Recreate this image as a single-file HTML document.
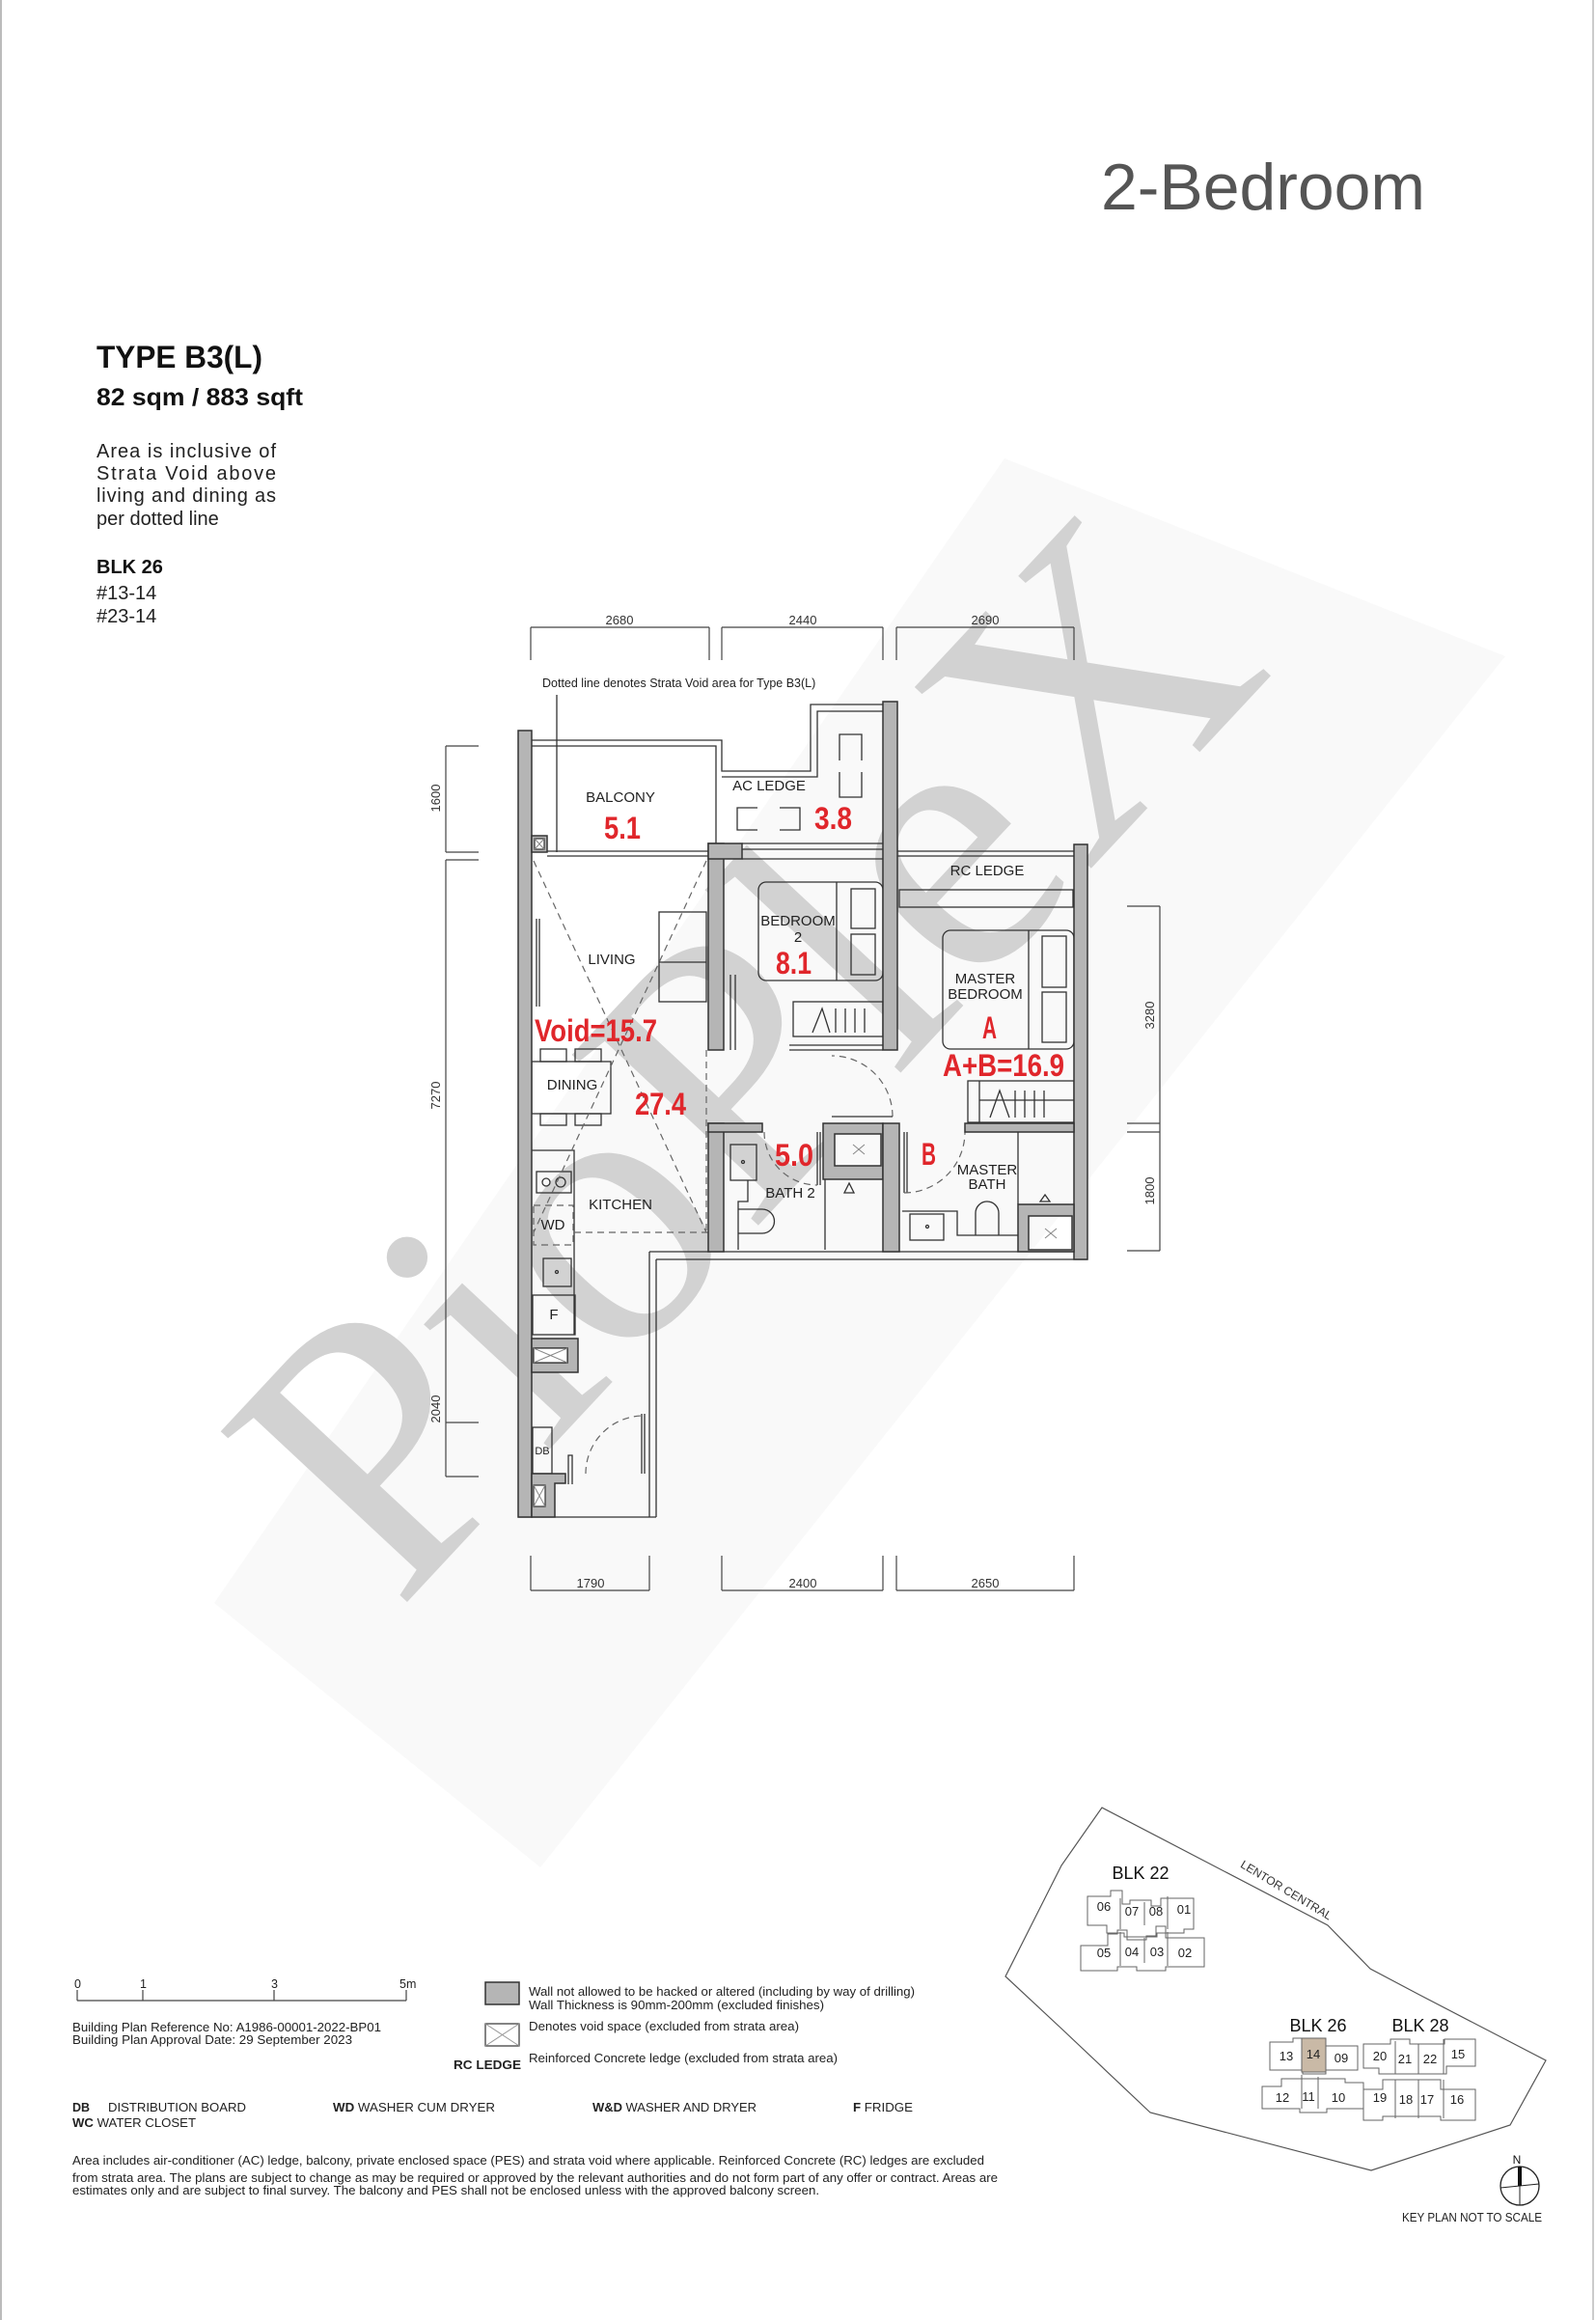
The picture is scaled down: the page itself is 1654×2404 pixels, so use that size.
<!DOCTYPE html>
<html><head><meta charset="utf-8"><style>
html,body{margin:0;padding:0;background:#fff;}
svg{display:block;}
text{font-family:"Liberation Sans",Arial,sans-serif;}
</style></head><body>
<svg width="1654" height="2404" viewBox="0 0 1654 2404" xmlns="http://www.w3.org/2000/svg">
<rect x="0" y="0" width="1654" height="2404" fill="#fff"/>
<line x1="1" y1="0" x2="1" y2="2404" stroke="#bbb" stroke-width="2"/>
<line x1="1651" y1="0" x2="1651" y2="2404" stroke="#ccc" stroke-width="2"/>

<!-- watermark band -->
<polygon points="222,1661 1041,475 1560,680 560,1935" fill="#f9f9f9"/>
<text x="0" y="0" transform="translate(800,1120) rotate(-47)" text-anchor="middle" dominant-baseline="middle" font-size="400" fill="#d2d2d2" style="font-family:'Liberation Serif',serif">PioPleX</text>

<!-- Header -->
<text x="1141" y="217" font-size="68" fill="#555" textLength="336" lengthAdjust="spacingAndGlyphs">2-Bedroom</text>
<text x="100" y="381" font-size="32" font-weight="bold" fill="#111" textLength="172" lengthAdjust="spacingAndGlyphs">TYPE B3(L)</text>
<text x="100" y="420" font-size="25" font-weight="bold" fill="#111" textLength="214" lengthAdjust="spacingAndGlyphs">82 sqm / 883 sqft</text>
<g font-size="20" fill="#222">
<text x="100" y="474" textLength="186" lengthAdjust="spacing">Area is inclusive of</text>
<text x="100" y="497" textLength="186" lengthAdjust="spacing">Strata Void above</text>
<text x="100" y="520" textLength="186" lengthAdjust="spacing">living and dining as</text>
<text x="100" y="544">per dotted line</text>
</g>
<text x="100" y="594" font-size="20" font-weight="bold" fill="#111">BLK 26</text>
<text x="100" y="621" font-size="20" fill="#222">#13-14</text>
<text x="100" y="645" font-size="20" fill="#222">#23-14</text>

<!-- Dimensions -->
<g stroke="#444" stroke-width="1.2" fill="none">
<line x1="550" y1="650" x2="735" y2="650"/><line x1="748" y1="650" x2="915" y2="650"/><line x1="929" y1="650" x2="1113" y2="650"/>
<line x1="550" y1="650" x2="550" y2="684"/><line x1="735" y1="650" x2="735" y2="684"/><line x1="748" y1="650" x2="748" y2="684"/><line x1="915" y1="650" x2="915" y2="684"/><line x1="929" y1="650" x2="929" y2="684"/><line x1="1113" y1="650" x2="1113" y2="684"/>
<line x1="550" y1="1648" x2="673" y2="1648"/><line x1="748" y1="1648" x2="915" y2="1648"/><line x1="929" y1="1648" x2="1113" y2="1648"/>
<line x1="550" y1="1612" x2="550" y2="1648"/><line x1="673" y1="1612" x2="673" y2="1648"/><line x1="748" y1="1612" x2="748" y2="1648"/><line x1="915" y1="1612" x2="915" y2="1648"/><line x1="929" y1="1612" x2="929" y2="1648"/><line x1="1113" y1="1612" x2="1113" y2="1648"/>
<line x1="462" y1="773" x2="462" y2="883"/><line x1="462" y1="891" x2="462" y2="1530"/>
<line x1="462" y1="773" x2="496" y2="773"/><line x1="462" y1="883" x2="496" y2="883"/><line x1="462" y1="891" x2="496" y2="891"/><line x1="462" y1="1474" x2="496" y2="1474"/><line x1="462" y1="1530" x2="496" y2="1530"/>
<line x1="1202" y1="939" x2="1202" y2="1296"/>
<line x1="1168" y1="939" x2="1202" y2="939"/><line x1="1168" y1="1164" x2="1202" y2="1164"/><line x1="1168" y1="1173" x2="1202" y2="1173"/><line x1="1168" y1="1296" x2="1202" y2="1296"/>
</g>
<g font-size="13" fill="#333" text-anchor="middle">
<text x="642" y="647">2680</text><text x="832" y="647">2440</text><text x="1021" y="647">2690</text>
<text x="612" y="1645">1790</text><text x="832" y="1645">2400</text><text x="1021" y="1645">2650</text>
<text transform="translate(456,827) rotate(-90)">1600</text>
<text transform="translate(456,1135) rotate(-90)">7270</text>
<text transform="translate(456,1460) rotate(-90)">2040</text>
<text transform="translate(1196,1052) rotate(-90)">3280</text>
<text transform="translate(1196,1234) rotate(-90)">1800</text>
</g>
<text x="562" y="712" font-size="12.5" fill="#222">Dotted line denotes Strata Void area for Type B3(L)</text>

<!-- Plan lines -->
<g stroke="#333" stroke-width="1.3" fill="none">
<line x1="577" y1="720" x2="577" y2="883"/>
<polyline points="551,767 748,767 748,799 840,799 840,730 915,730"/>
<polyline points="551,773 742,773 742,882"/>
<polyline points="748,805 847,805 847,737 915,737"/>
<line x1="567" y1="882" x2="734" y2="882"/><line x1="567" y1="887" x2="734" y2="887"/>
<line x1="769" y1="874" x2="915" y2="874"/><line x1="769" y1="890" x2="915" y2="890"/><line x1="769" y1="880" x2="915" y2="880"/>
<line x1="930" y1="882" x2="1113" y2="882"/><line x1="930" y1="887" x2="1113" y2="887"/>
<rect x="932" y="922" width="180" height="18"/>
<polyline points="785,837 764,837 764,860 785,860"/>
<polyline points="808,837 829,837 829,860 808,860"/>
<polyline points="870,788 870,761 893,761 893,788"/><polyline points="870,800 870,826 893,826 893,800"/>
<rect x="786" y="914" width="129" height="102" rx="8"/>
<line x1="867" y1="914" x2="867" y2="1016"/>
<rect x="882" y="921" width="25" height="41"/><rect x="882" y="968" width="25" height="42"/>
<rect x="822" y="1038" width="93" height="36"/>
<polyline points="842,1070 852,1045 860,1070" /><line x1="866" y1="1045" x2="866" y2="1070"/><line x1="876" y1="1045" x2="876" y2="1070"/><line x1="886" y1="1045" x2="886" y2="1070"/><line x1="896" y1="1045" x2="896" y2="1070"/>
<line x1="818" y1="1083" x2="915" y2="1083"/><line x1="818" y1="1088" x2="915" y2="1088"/>
<line x1="757" y1="1010" x2="757" y2="1088"/><line x1="762" y1="1010" x2="762" y2="1088"/>
<rect x="683" y="945" width="49" height="93"/><line x1="683" y1="997" x2="732" y2="997"/>
<line x1="556" y1="952" x2="556" y2="1043"/><line x1="559" y1="952" x2="559" y2="1043"/>
<rect x="551" y="1100" width="82" height="54"/>
<rect x="560" y="1087" width="27" height="13"/><rect x="596" y="1087" width="27" height="13"/>
<rect x="560" y="1154" width="27" height="12"/><rect x="596" y="1154" width="27" height="12"/>
<polyline points="551,1192 595,1192 595,1383"/>
<rect x="556" y="1214" width="36" height="22"/>
<circle cx="566" cy="1225" r="4"/><circle cx="581" cy="1225" r="5"/>
<rect x="563" y="1304" width="29" height="29"/><circle cx="577" cy="1318" r="1.5"/>
<rect x="552" y="1342" width="44" height="41"/>
<rect x="552" y="1479" width="20" height="48"/>
<rect x="977" y="964" width="136" height="123" rx="8"/>
<line x1="1066" y1="964" x2="1066" y2="1087"/>
<rect x="1080" y="970" width="25" height="53"/><rect x="1080" y="1028" width="25" height="52"/>
<rect x="1003" y="1120" width="110" height="43"/><line x1="1015" y1="1120" x2="1015" y2="1163"/><line x1="1015" y1="1140" x2="1113" y2="1140"/>
<polyline points="1026,1158 1036,1130 1046,1158"/><line x1="1052" y1="1130" x2="1052" y2="1158"/><line x1="1062" y1="1130" x2="1062" y2="1158"/><line x1="1072" y1="1130" x2="1072" y2="1158"/><line x1="1082" y1="1130" x2="1082" y2="1158"/>
<rect x="757" y="1186" width="27" height="37"/><circle cx="770" cy="1204" r="1.5"/>
<polyline points="775,1223 775,1245 765,1245 765,1295"/>
<path d="M765,1253 L790,1253 A12.5,12.5 0 0 1 790,1278 L765,1278"/>
<line x1="855" y1="1222" x2="855" y2="1295"/>
<polygon points="880,1226 875,1236 885,1236"/>
<line x1="847" y1="1173" x2="847" y2="1228"/><line x1="850" y1="1173" x2="850" y2="1228"/>
<line x1="937" y1="1173" x2="937" y2="1236"/><line x1="940" y1="1173" x2="940" y2="1236"/>
<polyline points="935,1255 992,1255 992,1280 1055,1280"/>
<rect x="943" y="1258" width="35" height="27"/><circle cx="961" cy="1271" r="1.5"/>
<path d="M1011,1280 L1011,1257 A12,12 0 0 1 1035,1257 L1035,1280"/>
<line x1="1055" y1="1173" x2="1055" y2="1248"/>
<polygon points="1083,1238 1078,1245 1088,1245"/>
<line x1="673" y1="1297" x2="1127" y2="1297"/><line x1="680" y1="1305" x2="1127" y2="1305"/>
<line x1="673" y1="1297" x2="673" y2="1572"/><line x1="680" y1="1305" x2="680" y2="1572"/>
<line x1="537" y1="1572" x2="680" y2="1572"/>
<line x1="665" y1="1465" x2="665" y2="1527"/><line x1="668" y1="1465" x2="668" y2="1527"/>
<polyline points="589,1538 589,1508 593,1508 593,1538"/>
</g>
<g stroke="#666" stroke-width="1.2" fill="none" stroke-dasharray="7,5">
<line x1="553" y1="892" x2="732" y2="1277"/><line x1="732" y1="892" x2="553" y2="1277"/>
<line x1="595" y1="1277" x2="734" y2="1277"/><line x1="732" y1="1088" x2="732" y2="1277"/>
<rect x="553" y="1249" width="41" height="41"/>
<path d="M925,1157 A63,63 0 0 0 862,1094"/>
<path d="M792,1173 A55,55 0 0 0 847,1228"/>
<path d="M937,1236 A63,63 0 0 0 1000,1173"/>
<path d="M607,1527 A60,60 0 0 1 667,1467"/>
</g>
<line x1="862" y1="1157" x2="925" y2="1157" stroke="#333" stroke-width="1.3"/>

<g fill="#b5b5b5" stroke="#333" stroke-width="1.5">
<rect x="537" y="757" width="14" height="815"/>
<rect x="551" y="866" width="16" height="17"/>
<rect x="734" y="874" width="16" height="214"/>
<rect x="734" y="874" width="35" height="16"/>
<rect x="915" y="727" width="15" height="361"/>
<rect x="1113" y="875" width="14" height="430"/>
<rect x="734" y="1164" width="16" height="133"/>
<rect x="734" y="1164" width="56" height="9"/>
<path d="M853,1164 H915 V1222 H853 Z M865,1175 V1208 H913 V1175 Z" fill-rule="evenodd"/>
<rect x="915" y="1164" width="17" height="133"/>
<rect x="1000" y="1164" width="113" height="9"/>
<path d="M1055,1248 H1113 V1297 H1055 Z M1066,1260 V1295 H1111 V1260 Z" fill-rule="evenodd"/>
<path d="M551,1387 H599 V1422 H551 Z M553,1397 V1412 H588 V1397 Z" fill-rule="evenodd"/>
<path d="M551,1527 H586 V1537 H575 V1572 H551 Z"/>
</g>
<g fill="#fff" stroke="#333" stroke-width="1.2">
<rect x="554" y="869" width="10" height="11"/>
<rect x="553" y="1397" width="35" height="15"/>
<rect x="553" y="1539" width="12" height="22"/>
</g>
<g stroke="#888" stroke-width="1">
<line x1="554" y1="869" x2="564" y2="880"/><line x1="564" y1="869" x2="554" y2="880"/>
<line x1="553" y1="1397" x2="588" y2="1412"/><line x1="588" y1="1397" x2="553" y2="1412"/>
<line x1="553" y1="1539" x2="565" y2="1561"/><line x1="565" y1="1539" x2="553" y2="1561"/>
<line x1="884" y1="1186" x2="896" y2="1196"/><line x1="896" y1="1186" x2="884" y2="1196"/>
<line x1="1083" y1="1273" x2="1095" y2="1283"/><line x1="1095" y1="1273" x2="1083" y2="1283"/>
</g>

<g font-size="15" fill="#222" text-anchor="middle">
<text x="643" y="831">BALCONY</text>
<text x="797" y="819">AC LEDGE</text>
<text x="1023" y="907">RC LEDGE</text>
<text x="827" y="959">BEDROOM</text>
<text x="827" y="976">2</text>
<text x="634" y="999">LIVING</text>
<text x="1021" y="1019">MASTER</text>
<text x="1021" y="1035">BEDROOM</text>
<text x="593" y="1129">DINING</text>
<text x="643" y="1253">KITCHEN</text>
<text x="573" y="1274">WD</text>
<text x="574" y="1367">F</text>
<text x="819" y="1241">BATH 2</text>
<text x="1023" y="1217">MASTER</text>
<text x="1023" y="1232">BATH</text>
<text x="562" y="1507" font-size="11">DB</text>
</g>
<g font-weight="bold" fill="#e0262b" font-size="32">
<text x="626" y="869" textLength="38" lengthAdjust="spacingAndGlyphs">5.1</text>
<text x="844" y="859" textLength="39" lengthAdjust="spacingAndGlyphs">3.8</text>
<text x="804" y="1009" textLength="37" lengthAdjust="spacingAndGlyphs">8.1</text>
<text x="554" y="1079" textLength="127" lengthAdjust="spacingAndGlyphs">Void=15.7</text>
<text x="658" y="1155" textLength="53" lengthAdjust="spacingAndGlyphs">27.4</text>
<text x="1018" y="1076" textLength="15" lengthAdjust="spacingAndGlyphs">A</text>
<text x="977" y="1115" textLength="126" lengthAdjust="spacingAndGlyphs">A+B=16.9</text>
<text x="803" y="1208" textLength="40" lengthAdjust="spacingAndGlyphs">5.0</text>
<text x="955" y="1207" textLength="15" lengthAdjust="spacingAndGlyphs">B</text>
</g>

<g stroke="#444" stroke-width="1.2" fill="none">
<line x1="80" y1="2073" x2="421" y2="2073"/>
<line x1="80" y1="2062" x2="80" y2="2073"/><line x1="148" y1="2062" x2="148" y2="2073"/><line x1="284" y1="2062" x2="284" y2="2073"/><line x1="421" y1="2062" x2="421" y2="2073"/>
</g>
<g font-size="12.5" fill="#222">
<text x="77" y="2060">0</text><text x="145" y="2060">1</text><text x="281" y="2060">3</text><text x="414" y="2060">5m</text>
<text x="75" y="2105" textLength="320" lengthAdjust="spacingAndGlyphs">Building Plan Reference No: A1986-00001-2022-BP01</text>
<text x="75" y="2118" textLength="290" lengthAdjust="spacingAndGlyphs">Building Plan Approval Date: 29 September 2023</text>
<text x="548" y="2068" textLength="400" lengthAdjust="spacingAndGlyphs">Wall not allowed to be hacked or altered (including by way of drilling)</text>
<text x="548" y="2082" textLength="306" lengthAdjust="spacingAndGlyphs">Wall Thickness is 90mm-200mm (excluded finishes)</text>
<text x="548" y="2104" textLength="280" lengthAdjust="spacingAndGlyphs">Denotes void space (excluded from strata area)</text>
<text x="548" y="2137" textLength="320" lengthAdjust="spacingAndGlyphs">Reinforced Concrete ledge (excluded from strata area)</text>
<text x="470" y="2144" font-weight="bold" textLength="70" lengthAdjust="spacingAndGlyphs">RC LEDGE</text>
<text x="75" y="2188"><tspan font-weight="bold">DB</tspan></text>
<text x="112" y="2188" textLength="143" lengthAdjust="spacingAndGlyphs">DISTRIBUTION BOARD</text>
<text x="345" y="2188" textLength="168" lengthAdjust="spacingAndGlyphs"><tspan font-weight="bold">WD</tspan> WASHER CUM DRYER</text>
<text x="614" y="2188" textLength="170" lengthAdjust="spacingAndGlyphs"><tspan font-weight="bold">W&amp;D</tspan> WASHER AND DRYER</text>
<text x="884" y="2188" textLength="62" lengthAdjust="spacingAndGlyphs"><tspan font-weight="bold">F</tspan> FRIDGE</text>
<text x="75" y="2204" textLength="128" lengthAdjust="spacingAndGlyphs"><tspan font-weight="bold">WC</tspan> WATER CLOSET</text>
<text x="75" y="2243" textLength="945" lengthAdjust="spacingAndGlyphs">Area includes air-conditioner (AC) ledge, balcony, private enclosed space (PES) and strata void where applicable. Reinforced Concrete (RC) ledges are excluded</text>
<text x="75" y="2261" textLength="959" lengthAdjust="spacingAndGlyphs">from strata area. The plans are subject to change as may be required or approved by the relevant authorities and do not form part of any offer or contract. Areas are</text>
<text x="75" y="2274" textLength="774" lengthAdjust="spacingAndGlyphs">estimates only and are subject to final survey. The balcony and PES shall not be enclosed unless with the approved balcony screen.</text>
</g>
<rect x="503" y="2054" width="35" height="23" fill="#b5b5b5" stroke="#333" stroke-width="1.5"/>
<rect x="503" y="2097" width="35" height="23" fill="#fff" stroke="#333" stroke-width="1.2"/>
<line x1="503" y1="2097" x2="538" y2="2120" stroke="#999"/><line x1="538" y1="2097" x2="503" y2="2120" stroke="#999"/>

<polygon points="1142,1873 1376,1995 1420,2040 1471,2067 1602,2135 1565,2202 1421,2249 1192,2189 1100,2102 1042,2048 1100,1933" fill="none" stroke="#555" stroke-width="1.2"/>
<text transform="translate(1331,1962) rotate(31)" text-anchor="middle" font-size="12" fill="#333">LENTOR CENTRAL</text>
<g fill="none" stroke="#666" stroke-width="1">
<path d="M1127,1965 h24 v-6 h12 v14 h8 v-4 h22 v6 h10 v-8 h34 v32 h-10 v4 h-28 v4 h-34 v-4 h-18 v-8 h-20 z"/>
<path d="M1120,2016 h28 v-12 h10 v-4 h10 v10 h20 v-4 h10 v-10 h10 v12 h40 v30 h-40 v4 h-30 v-4 h-20 v4 h-38 z"/>
<line x1="1161" y1="1967" x2="1161" y2="1999"/><line x1="1186" y1="1971" x2="1186" y2="1995"/><line x1="1210" y1="1965" x2="1210" y2="1999"/>
<line x1="1161" y1="2002" x2="1161" y2="2037"/><line x1="1186" y1="2008" x2="1186" y2="2034"/><line x1="1210" y1="2002" x2="1210" y2="2037"/>
<path d="M1316,2116 h24 v-4 h34 v8 h33 v25 h-33 v4 h-24 v-4 h-34 z"/>
<path d="M1308,2162 h20 v-8 h66 v4 h19 v27 h-38 v4 h-28 v-4 h-39 z"/>
<line x1="1349" y1="2150" x2="1349" y2="2185"/><line x1="1366" y1="2152" x2="1366" y2="2185"/>
<path d="M1413,2118 h28 v-5 h20 v5 h36 v-5 h32 v28 h-30 v8 h-70 v-6 h-16 z"/>
<path d="M1413,2165 h20 v-10 h60 v10 h36 v32 h-36 v-4 h-60 v4 h-20 z"/>
<line x1="1446" y1="2115" x2="1446" y2="2149"/><line x1="1470" y1="2118" x2="1470" y2="2149"/><line x1="1496" y1="2113" x2="1496" y2="2149"/>
<line x1="1446" y1="2155" x2="1446" y2="2195"/><line x1="1470" y1="2155" x2="1470" y2="2195"/><line x1="1496" y1="2155" x2="1496" y2="2195"/>
</g>
<rect x="1349" y="2112" width="25" height="35" fill="#c9b9a6" stroke="#666"/>
<g font-size="13" fill="#222" text-anchor="middle">
<text x="1144" y="1980">06</text><text x="1173" y="1985">07</text><text x="1198" y="1985">08</text><text x="1227" y="1983">01</text>
<text x="1144" y="2028">05</text><text x="1173" y="2027">04</text><text x="1199" y="2027">03</text><text x="1228" y="2028">02</text>
<text x="1333" y="2135">13</text><text x="1361" y="2133">14</text><text x="1390" y="2137">09</text><text x="1430" y="2135">20</text><text x="1456" y="2138">21</text><text x="1482" y="2138">22</text><text x="1511" y="2133">15</text>
<text x="1329" y="2178">12</text><text x="1356" y="2177">11</text><text x="1387" y="2178">10</text><text x="1430" y="2178">19</text><text x="1457" y="2180">18</text><text x="1479" y="2180">17</text><text x="1510" y="2180">16</text>
</g>
<g font-size="18" fill="#111" text-anchor="middle">
<text x="1182" y="1947">BLK 22</text>
<text x="1366" y="2105">BLK 26</text>
<text x="1472" y="2105">BLK 28</text>
</g>
<circle cx="1575" cy="2265" r="20" fill="none" stroke="#222" stroke-width="1.3"/>
<line x1="1555" y1="2267" x2="1595" y2="2263" stroke="#222" stroke-width="1"/>
<line x1="1575" y1="2245" x2="1575" y2="2285" stroke="#222" stroke-width="1"/>
<rect x="1573" y="2245" width="4" height="20" fill="#111"/>
<text x="1572" y="2242" font-size="12" text-anchor="middle" fill="#111">N</text>
<text x="1453" y="2302" font-size="12.5" fill="#222" textLength="145" lengthAdjust="spacingAndGlyphs">KEY PLAN NOT TO SCALE</text>
</svg>
</body></html>
